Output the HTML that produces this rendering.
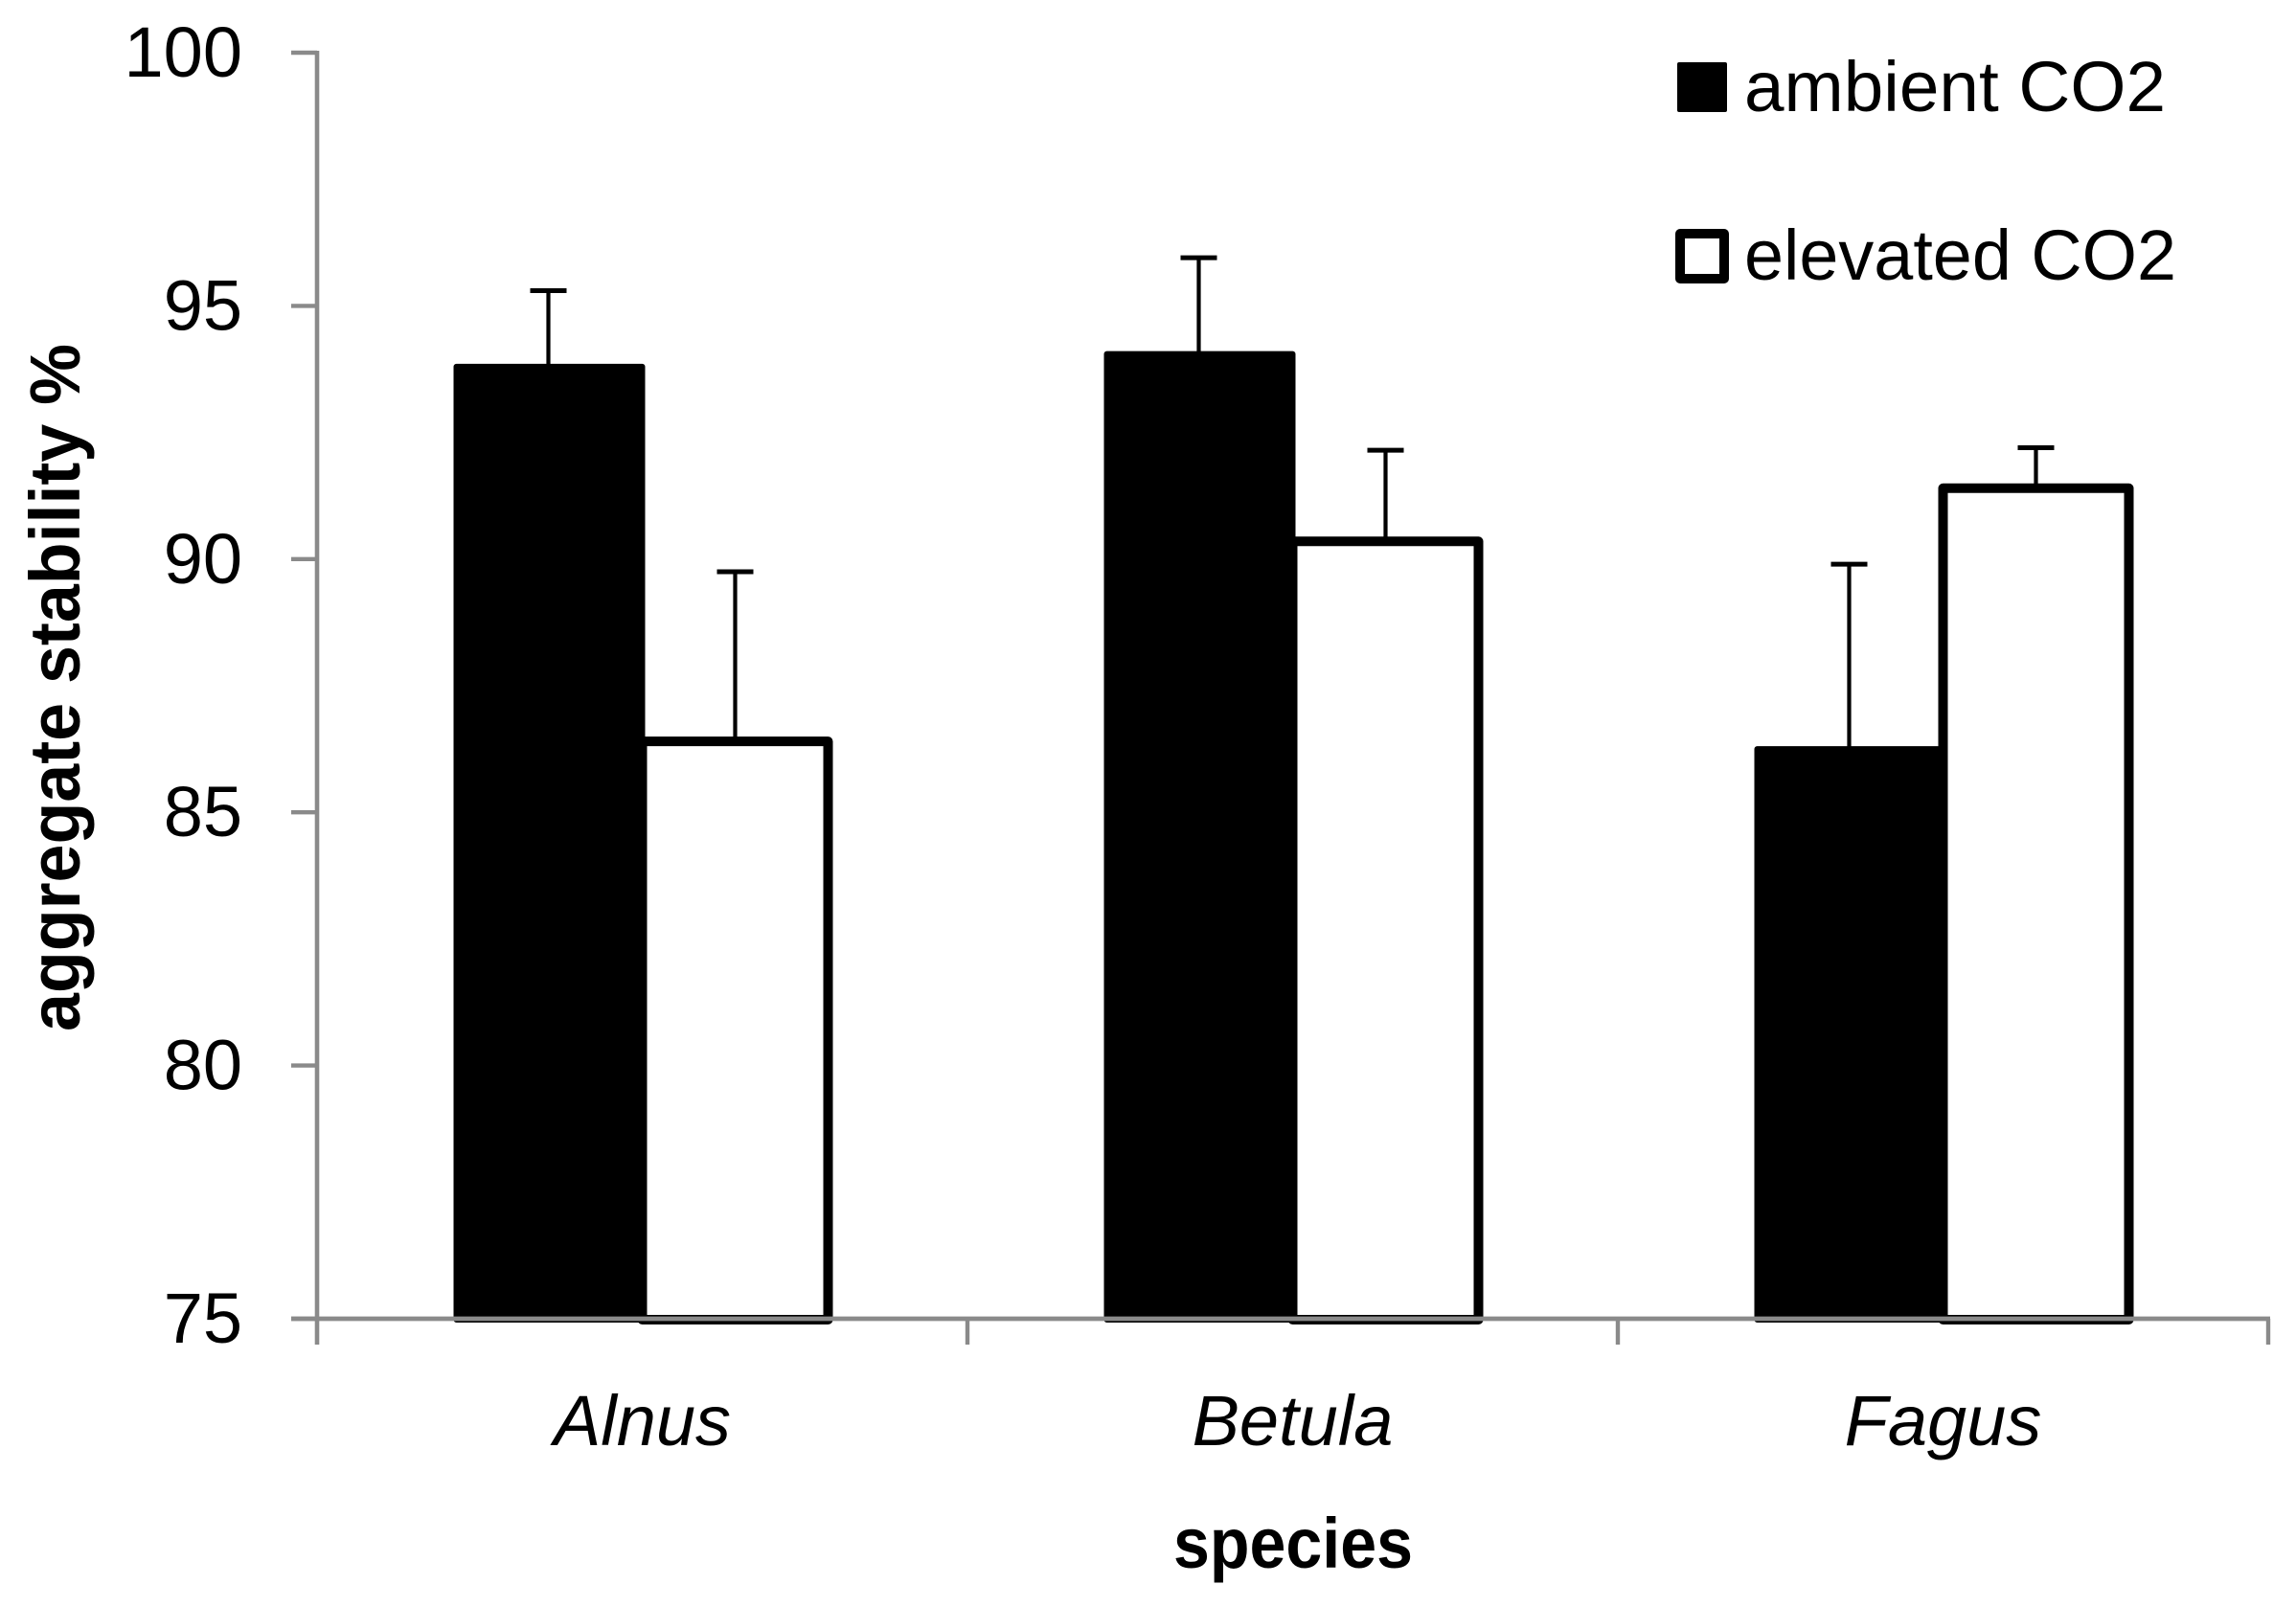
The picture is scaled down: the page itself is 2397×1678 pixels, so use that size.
<!DOCTYPE html>
<html lang="en">
<head>
<meta charset="utf-8">
<title>Aggregate stability by species</title>
<style>
  html, body { margin: 0; padding: 0; background: #fff; }
  svg { display: block; font-family: "Liberation Sans", sans-serif; fill: #000; }
</style>
</head>
<body>
<svg id="chart" xmlns="http://www.w3.org/2000/svg" width="2397" height="1678" viewBox="0 0 2397 1678">
  <rect x="0" y="0" width="2397" height="1678" fill="#ffffff"/>
  <g id="bars"></g>
  <g id="axes"></g>
  <g id="labels"></g>

  <text transform="translate(83,718) rotate(-90)" text-anchor="middle" font-size="74" font-weight="700" textLength="718" lengthAdjust="spacingAndGlyphs">aggregate stability %</text>
  <text x="1350" y="1637" text-anchor="middle" font-size="74" font-weight="700" textLength="250" lengthAdjust="spacingAndGlyphs">species</text>

  <g>
    <g>
      <rect x="1751" y="65" width="52" height="52" rx="2" fill="#000"/>
      <text x="1821" y="116" font-size="74" textLength="440" lengthAdjust="spacingAndGlyphs">ambient CO2</text>
    </g>
    <g>
      <rect x="1754" y="244" width="46" height="47" fill="#fff" stroke="#000" stroke-width="10" stroke-linejoin="round"/>
      <text x="1821" y="292" font-size="74" textLength="451" lengthAdjust="spacingAndGlyphs">elevated CO2</text>
    </g>
  </g>
</svg>

<script>
const categories = ["Alnus", "Betula", "Fagus"];
const ambientValues = [93.8, 94.05, 86.25];
const ambientErrorTops = [95.3, 95.95, 89.9];
const elevatedValues = [86.4, 90.35, 91.4];
const elevatedErrorTops = [89.75, 92.15, 92.2];
const yTickValues = [75, 80, 85, 90, 95, 100];

const NS = "http://www.w3.org/2000/svg";
const plotLeft = 331, plotRight = 2368, plotTop = 55, plotBottom = 1377;
const yMin = 75, yMax = 100;
const barWidth = 194;
const axisColor = "#8a8a8a";

function yScale(v) {
  return plotBottom - (v - yMin) / (yMax - yMin) * (plotBottom - plotTop);
}
function bandWidth() {
  return (plotRight - plotLeft) / categories.length;
}
function xCenter(i) {
  return plotLeft + bandWidth() * (i + 0.5);
}
function make(tag, attrs, parent) {
  const el = document.createElementNS(NS, tag);
  for (const k in attrs) el.setAttribute(k, attrs[k]);
  parent.appendChild(el);
  return el;
}

const barsGroup = document.getElementById("bars");
const axesGroup = document.getElementById("axes");
const labelsGroup = document.getElementById("labels");

function drawError(x, value, top, series, category) {
  const stem = make("line", { x1: x, x2: x, y1: yScale(value), y2: yScale(top), stroke: "#000", "stroke-width": 4.2 }, barsGroup);
  
  
  const cap = make("line", { x1: x - 19, x2: x + 19, y1: yScale(top), y2: yScale(top), stroke: "#000", "stroke-width": 5 }, barsGroup);
  
  
}

categories.forEach(function (cat, i) {
  const c = xCenter(i);
  const key = cat.toLowerCase();

  drawError(c - barWidth / 2 - 1, ambientValues[i], ambientErrorTops[i], "ambient", key);
  drawError(c + barWidth / 2, elevatedValues[i], elevatedErrorTops[i], "elevated", key);

  const ambientTop = yScale(ambientValues[i]);
  const ambient = make("rect", {
    x: c - barWidth, y: ambientTop, width: barWidth, height: yScale(yMin) + 1 - ambientTop,
    fill: "#000", stroke: "#000", "stroke-width": 6, "stroke-linejoin": "round"
  }, barsGroup);
  
  

  const elevatedTop = yScale(elevatedValues[i]);
  const elevated = make("rect", {
    x: c, y: elevatedTop, width: barWidth, height: yScale(yMin) + 1 - elevatedTop,
    fill: "#fff", stroke: "#000", "stroke-width": 10, "stroke-linejoin": "round"
  }, barsGroup);
  
  

  const label = make("text", {
    x: c, y: 1509, "text-anchor": "middle", "font-size": 74, "font-style": "italic"
  }, labelsGroup);
  label.textContent = cat;
  
  
});

const yAxis = make("line", { x1: plotLeft, x2: plotLeft, y1: plotTop - 2, y2: plotBottom + 27, stroke: axisColor, "stroke-width": 4.6 }, axesGroup);



const xAxis = make("line", { x1: plotLeft - 27, x2: plotRight + 2, y1: plotBottom, y2: plotBottom, stroke: axisColor, "stroke-width": 4.8 }, axesGroup);



yTickValues.forEach(function (v) {
  const y = yScale(v);
  const tick = make("line", { x1: plotLeft - 27, x2: plotLeft, y1: y, y2: y, stroke: axisColor, "stroke-width": 4.4 }, axesGroup);
  
  

  const text = String(v);
  const label = make("text", {
    x: 253, y: y + 25, "text-anchor": "end", "font-size": 74
  }, labelsGroup);
  label.textContent = text;
  
  
});

for (let i = 1; i <= categories.length; i++) {
  const x = plotLeft + bandWidth() * i;
  const tick = make("line", { x1: x, x2: x, y1: plotBottom, y2: plotBottom + 27, stroke: axisColor, "stroke-width": 4.4 }, axesGroup);
  
  
}
</script>
</body>
</html>
